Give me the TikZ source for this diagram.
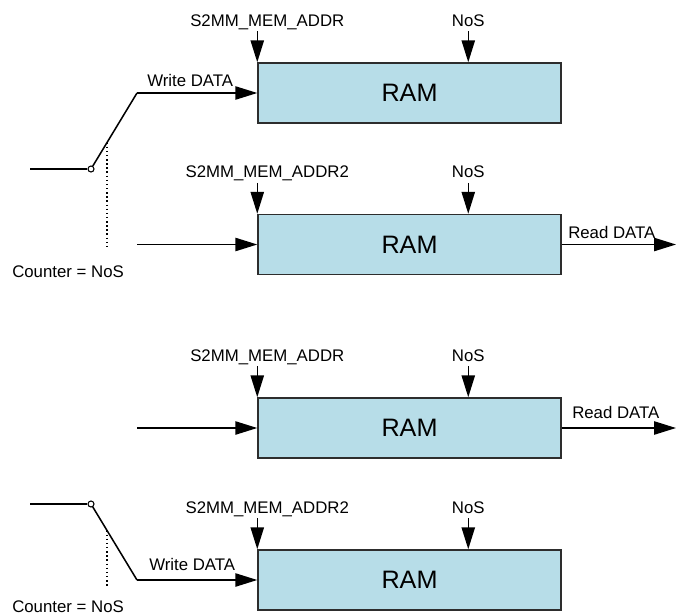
\documentclass[tikz,border=0pt]{standalone}
\usepackage{fontspec}
\setmainfont{Liberation Sans}
\usetikzlibrary{arrows.meta,calc}

\definecolor{ramfill}{RGB}{183,221,232}
\definecolor{ramedge}{RGB}{45,45,45}

\tikzset{
  ram/.style={draw=ramedge, fill=ramfill, line width=1.1pt, inner sep=0pt,
    minimum width=227.25pt, minimum height=45pt,
    font=\fontsize{18.9}{20}\selectfont},
  lbl/.style={inner sep=0pt, font=\fontsize{12.6}{14}\selectfont},
  sig/.style={line width=1.15pt, -{Triangle[length=16.5pt,width=10pt]}},
  wire/.style={line width=1.15pt},
  sense/.style={line width=1.1pt, dotted},
  pivot/.style={circle, draw, line width=0.8pt, fill=white, inner sep=0pt, minimum size=4.5pt}
}

\begin{document}
\begin{tikzpicture}[x=0.75pt, y=-0.75pt]
\useasboundingbox (0,0) rectangle (676,615);

% ---- memory blocks ----
\node[ram] (b1) at (409.5, 93) {RAM};
\node[ram] (b2) at (409.5, 244.5) {RAM};
\node[ram] (b3) at (409.5, 428) {RAM};
\node[ram] (b4) at (409.5, 580) {RAM};

% ---- address / count inputs ----
\foreach \b/\addr in {b1/S2MM\_MEM\_ADDR, b2/S2MM\_MEM\_ADDR2, b3/S2MM\_MEM\_ADDR, b4/S2MM\_MEM\_ADDR2}{
  \node[lbl, anchor=base] (\b a) at ($(\b.north west)+(10,-36)$) {\addr};
  \node[lbl, anchor=base] (\b n) at ($(\b.north west)+(211,-36)$) {NoS};
  \coordinate (\b as) at ($(\b.north west)+(0,-31)$);
  \coordinate (\b ns) at ($(\b.north west)+(211,-31)$);
  \draw[sig] (\b as) -- (\b.north west);
  \draw[sig] (\b ns) -- (\b ns |- \b.north);
}

% ---- upper switch: feeds the first block ----
\coordinate (in1) at (30,169);
\node[pivot] (p1) at (91,169) {};
\coordinate (t1) at (137,93);
\draw[wire] (in1) -- (p1.west);
\draw[wire] (p1) -- (t1);
\draw[sig] (t1) -- (b1.west);
\node[lbl, anchor=base west] (w1) at (147,86) {Write DATA};
\coordinate (d1) at ($(p1)!0.348!(t1)$);
\coordinate (d1e) at (d1 |- 0,250);
\draw[sense] (d1) -- (d1e);
\node[lbl, anchor=base west] (c1) at (12,277) {Counter = NoS};

% ---- second block ----
\coordinate (in2) at (137,244.5);
\draw[sig] (in2) -- (b2.west);
\coordinate (o2) at (676,244.5);
\draw[sig] (b2.east) -- (o2);
\node[lbl, anchor=base west] (r2) at (568,238) {Read DATA};

% ---- third block ----
\coordinate (in3) at (137,428);
\draw[sig] (in3) -- (b3.west);
\coordinate (o3) at (676,428);
\draw[sig] (b3.east) -- (o3);
\node[lbl, anchor=base west] (r3) at (572,418) {Read DATA};

% ---- lower switch: feeds the fourth block ----
\coordinate (in4) at (30,504);
\node[pivot] (p4) at (91,504) {};
\coordinate (t4) at (137,580);
\draw[wire] (in4) -- (p4.west);
\draw[wire] (p4) -- (t4);
\draw[sig] (t4) -- (b4.west);
\node[lbl, anchor=base west] (w4) at (149,570) {Write DATA};
\coordinate (d4) at ($(p4)!0.348!(t4)$);
\coordinate (d4e) at (d4 |- 0,588);
\draw[sense] (d4) -- (d4e);
\node[lbl, anchor=base west] (c4) at (12,612) {Counter = NoS};
\end{tikzpicture}
\end{document}
